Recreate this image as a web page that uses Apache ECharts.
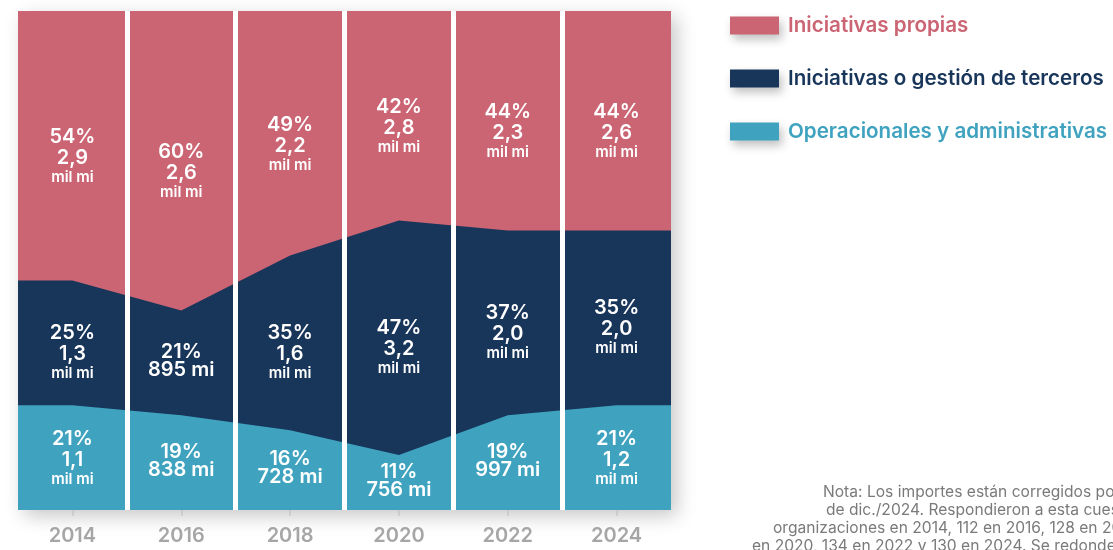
<!DOCTYPE html>
<html lang="es">
<head>
    <meta charset="UTF-8">
    <title>Distribución del gasto</title>
    <style>
        html, body { margin: 0; padding: 0; background: #fff; }
        #main { width: 1113px; height: 550px; }
    </style>
</head>
<body>
    <div id="main"></div>
</body>
</html>
<script src="https://cdn.jsdelivr.net/npm/echarts@6/dist/echarts.min.js"></script>
<script>
    // datos
    var years = ['2014', '2016', '2018', '2020', '2022', '2024'];
    var propias = [54, 60, 49, 42, 44, 44];
    var terceros = [25, 21, 35, 47, 37, 35];
    var operacionales = [21, 19, 16, 11, 19, 21];
    var propiasMonto = ['2,9 mil mi', '2,6 mil mi', '2,2 mil mi', '2,8 mil mi', '2,3 mil mi', '2,6 mil mi'];
    var tercerosMonto = ['1,3 mil mi', '895 mi', '1,6 mil mi', '3,2 mil mi', '2,0 mil mi', '2,0 mil mi'];
    var operacionalesMonto = ['1,1 mil mi', '838 mi', '728 mi', '756 mi', '997 mi', '1,2 mil mi'];
    var nota = [
        'Nota: Los importes están corregidos por inflación a valores',
        'de dic./2024. Respondieron a esta cuestión 120',
        'organizaciones en 2014, 112 en 2016, 128 en 2018, 129',
        'en 2020, 134 en 2022 y 130 en 2024. Se redondearon los valores.'
    ];

    var colPropias = '#CB6573';
    var colTerceros = '#18355A';
    var colOper = '#3FA3BF';

    var mainChart = echarts.init(document.getElementById('main'));

    // acumulados (el eje x es de valor, así que se apila a mano)
    var baseOper = years.map(function () { return 0; });
    var baseTerc = operacionales.slice();
    var basePropias = operacionales.map(function (v, i) { return v + terceros[i]; });
    var topOper = operacionales.slice();
    var topTerc = basePropias.slice();
    var topPropias = basePropias.map(function (v, i) { return v + propias[i]; });

    // serie de área: se extiende plano hasta los bordes de la primera y última columna
    function areaData(arr) {
        var d = [[-0.5, arr[0]]];
        arr.forEach(function (v, i) { d.push([i, v]); });
        d.push([arr.length - 0.5, arr[arr.length - 1]]);
        return d;
    }

    // puntos de etiqueta en el centro de cada tramo
    // dy3 / dy2: desplazamiento para etiquetas de tres o dos líneas
    function labelData(arr, bases, montos, dy3, dy2) {
        return arr.map(function (v, i) {
            var tres = montos[i].indexOf(' mil mi') > -1;
            return {
                value: [i, bases[i] + v / 2],
                pct: v,
                label: { offset: [0, tres ? dy3 : dy2] }
            };
        });
    }

    function labelFormatter(montos) {
        return function (p) {
            var m = montos[p.dataIndex];
            if (m.indexOf(' mil mi') > -1) {
                return '{p|' + p.data.pct + '%}\n{v|' + m.replace(' mil mi', '') + '}\n{u|mil mi}';
            }
            return '{q|' + p.data.pct + '%}\n{w|' + m + '}';
        };
    }

    var labelRich = {
        p: { fontSize: 20, fontWeight: 600, color: '#fff', lineHeight: 21, fontFamily: 'Inter' },
        v: { fontSize: 20, fontWeight: 600, color: '#fff', lineHeight: 21, fontFamily: 'Inter' },
        q: { fontSize: 20, fontWeight: 600, color: '#fff', lineHeight: 18, fontFamily: 'Inter' },
        w: { fontSize: 20, fontWeight: 600, color: '#fff', lineHeight: 18, fontFamily: 'Inter' },
        u: { fontSize: 15, fontWeight: 600, color: '#fff', lineHeight: 18, fontFamily: 'Inter' }
    };

    function areaSeries(name, tops, color) {
        return {
            name: name,
            type: 'line',
            xAxisIndex: 1,
            symbol: 'none',
            lineStyle: { width: 0 },
            itemStyle: { color: color },
            areaStyle: { color: color, opacity: 1, origin: 'start' },
            data: areaData(tops)
        };
    }

    function labelSeries(name, arr, bases, montos, dy3, dy2) {
        return {
            name: name,
            type: 'scatter',
            xAxisIndex: 1,
            symbolSize: 1,
            silent: true,
            z: 5,
            itemStyle: { color: 'rgba(0,0,0,0)' },
            label: {
                show: true,
                position: 'inside',
                align: 'center',
                color: '#fff',
                textBorderWidth: 0,
                opacity: 1,
                formatter: labelFormatter(montos),
                rich: labelRich
            },
            data: labelData(arr, bases, montos, dy3, dy2)
        };
    }

    var separators = years.slice(1).map(function (y, i) { return { xAxis: i + 0.5 }; });

    var serieOper = areaSeries('Operacionales y administrativas', topOper, colOper);
    serieOper.z = 3;
    serieOper.markLine = {
        silent: true,
        symbol: 'none',
        label: { show: false },
        lineStyle: { color: '#fff', width: 5, type: 'solid' },
        data: separators
    };

    var option = {
        animation: false,
        grid: {
            left: 18, right: 442, top: 11, bottom: 40,
            show: true,
            backgroundColor: '#fff',
            borderWidth: 0,
            shadowBlur: 18,
            shadowColor: 'rgba(0,0,0,0.22)',
            shadowOffsetX: 6,
            shadowOffsetY: 6
        },
        legend: {
            orient: 'vertical',
            left: 725,
            top: 10,
            itemWidth: 49,
            itemHeight: 18,
            itemGap: 32,
            icon: 'rect',
            selectedMode: false,
            itemStyle: {
                shadowBlur: 10,
                shadowColor: 'rgba(0,0,0,0.25)',
                shadowOffsetX: 3,
                shadowOffsetY: 5
            },
            textStyle: { fontSize: 20.6, fontWeight: 600, fontFamily: 'Inter', padding: [0, 0, 0, 4] },
            data: [
                { name: 'Iniciativas propias', textStyle: { color: colPropias } },
                { name: 'Iniciativas o gestión de terceros', textStyle: { color: colTerceros } },
                { name: 'Operacionales y administrativas', textStyle: { color: colOper } }
            ]
        },
        xAxis: [{
            type: 'category',
            data: years,
            boundaryGap: true,
            axisLine: { show: false },
            axisTick: { show: true, alignWithLabel: true, length: 6, lineStyle: { color: '#c8c8c8', width: 1.5 } },
            axisLabel: { color: '#a6a6a6', fontSize: 20, fontWeight: 600, fontFamily: 'Inter', margin: 16 },
            splitLine: { show: false }
        }, {
            type: 'value',
            min: -0.5,
            max: years.length - 0.5,
            show: false
        }],
        yAxis: {
            type: 'value',
            min: 0,
            max: 100,
            show: false
        },
        series: [
            areaSeries('Iniciativas propias', topPropias, colPropias),
            areaSeries('Iniciativas o gestión de terceros', topTerc, colTerceros),
            serieOper,
            labelSeries('lbl-oper', operacionales, baseOper, operacionalesMonto, 1, -2),
            labelSeries('lbl-terc', terceros, baseTerc, tercerosMonto, 10, -2),
            labelSeries('lbl-prop', propias, basePropias, propiasMonto, 11, -2)
        ],
        graphic: nota.map(function (t, i) {
            var xs = [823, 826, 773, 752];
            return {
                type: 'text',
                silent: true,
                style: {
                    text: t,
                    x: xs[i],
                    y: 492 + i * 18.2,
                    textVerticalAlign: 'middle',
                    fill: '#7a7a7a',
                    font: '15.6px Inter'
                }
            };
        })
    };

    mainChart.setOption(option);
</script>
